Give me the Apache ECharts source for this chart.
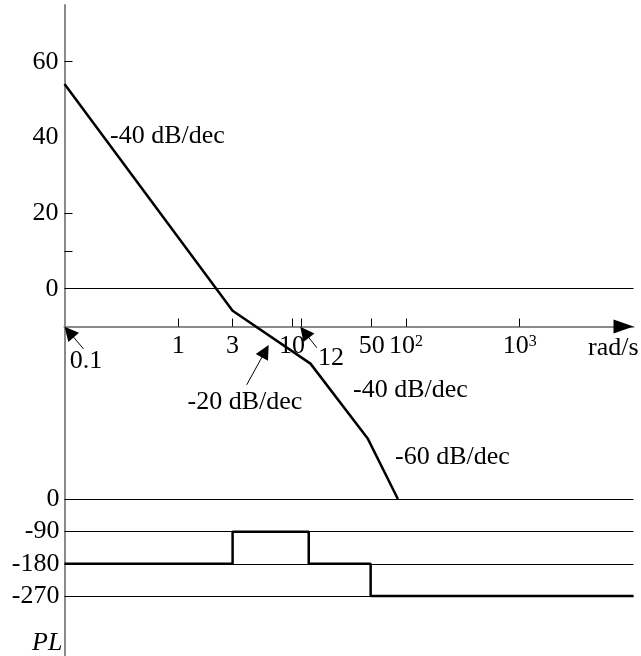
<!DOCTYPE html>
<html><head><meta charset="utf-8">
<script src="https://cdn.jsdelivr.net/npm/echarts@6/dist/echarts.min.js"></script>
<style>html,body{margin:0;padding:0;background:#fff}#c{width:641px;height:656px}</style>
</head><body><div id="c"></div>
<script>
// ---- data ----
const freqTicks = [1, 3, 10, 12, 50, 100, 1000];
const freqLabels = [1, 3, 10, 50, 100, 1000];
const magTicks = [60, 20, 10];
const magLabels = [60, 40, 20, 0];
const phaseLabels = [0, -90, -180, -270];
const magFreq = [0.1, 3, 14.5, 46, 85];
const magDb = [54.1, -5.8, -19.8, -39.5, -55.6];
const phaseFreq = [0.1, 3, 14, 49, 10000];
const phaseDeg = [-180, -90, -180, -270, -270];
// annotation arrows: tails and arrow-head centres as [freq, dB]
const arrowTails = [[0.147, -15.9], [16.5, -15.6], [3.99, -25.4]];
const arrowHeads = [[0.1098, -11.45], [12.88, -11.5], [5.81, -16.5]];

// ---- layout ----
const FONT = '"Liberation Serif","Times New Roman",serif';
const FS = 26;
const PX_PER_DB = 3.783;
const G0_TOP = 5, DB_MIN = -10, DB_MAX = 75;
const G0_H = (DB_MAX - DB_MIN) * PX_PER_DB;
const G1_TOP = G0_TOP + G0_H;
const PH0_Y = 499.5, PX_PER_DEG = 32.17 / 90;
const PH_MAX = (PH0_Y - G1_TOP) / PX_PER_DEG;
const PH_MIN = -(656 - PH0_Y) / PX_PER_DEG;
const LEFT = 64.5, RIGHT = 7.5;
const AX_GRAY = '#8a8a8a';

const supFmt = v => { const r = Math.round(v * 1000) / 1000; return r === 100 ? '10{s|2}' : r === 1000 ? '10{s|3}' : String(r); };

const chart = echarts.init(document.getElementById('c'), null, {renderer: 'canvas'});
const option = {
  animation: false,
  backgroundColor: '#fff',
  grid: [
    {left: LEFT, right: RIGHT, top: G0_TOP, height: G0_H},
    {left: LEFT, right: RIGHT, top: G1_TOP, bottom: 0}
  ],
  xAxis: [
    {gridIndex: 0, type: 'log', logBase: 10, min: 0.1, max: 10000, position: 'bottom',
     axisLine: {show: true, onZero: false, lineStyle: {color: AX_GRAY, width: 2}},
     axisTick: {show: true, inside: true, length: 8, customValues: freqTicks, lineStyle: {color: '#000', width: 1}},
     axisLabel: {show: true, customValues: freqLabels, formatter: supFmt, margin: 7,
                 fontFamily: FONT, fontSize: FS, color: '#000',
                 rich: {s: {fontFamily: FONT, fontSize: 16, color: '#000', verticalAlign: 'top', padding: [0, 0, 10, 0]}}},
     splitLine: {show: false}, minorTick: {show: false}},
    {gridIndex: 1, type: 'log', logBase: 10, min: 0.1, max: 10000, position: 'top',
     axisLine: {show: true, onZero: false, lineStyle: {color: '#000', width: 0}, symbol: ['none', 'triangle'],
                symbolSize: [14, 20], symbolOffset: [0, -10]},
     axisTick: {show: false}, axisLabel: {show: false}, splitLine: {show: false}}
  ],
  yAxis: [
    {gridIndex: 0, type: 'value', min: DB_MIN, max: DB_MAX,
     axisLine: {show: true, onZero: false, lineStyle: {color: AX_GRAY, width: 2}},
     axisTick: {show: true, inside: true, length: 8, customValues: magTicks, lineStyle: {color: '#000', width: 1}},
     axisLabel: {show: true, customValues: magLabels, margin: 6, fontFamily: FONT, fontSize: FS, color: '#000'},
     splitLine: {show: false}},
    {gridIndex: 1, type: 'value', min: PH_MIN, max: PH_MAX,
     axisLine: {show: true, onZero: false, lineStyle: {color: AX_GRAY, width: 2}},
     axisTick: {show: false},
     axisLabel: {show: true, customValues: phaseLabels, margin: 5, fontFamily: FONT, fontSize: FS, color: '#000'},
     splitLine: {show: false}}
  ],
  series: [
    {type: 'line', xAxisIndex: 0, yAxisIndex: 0, clip: false, symbol: 'none', z: 5,
     data: magFreq.map((f, i) => [f, magDb[i]]),
     lineStyle: {color: '#000', width: 2.5},
     markLine: {silent: true, symbol: 'none', label: {show: false},
                lineStyle: {color: '#000', width: 1, type: 'solid'},
                data: [{yAxis: 0}]}},
    {type: 'line', xAxisIndex: 1, yAxisIndex: 1, step: 'end', symbol: 'none', z: 5,
     data: phaseFreq.map((f, i) => [f, phaseDeg[i]]),
     lineStyle: {color: '#000', width: 2.5},
     markLine: {silent: true, symbol: 'none', label: {show: false},
                lineStyle: {color: '#000', width: 1, type: 'solid'},
                data: phaseLabels.map(v => ({yAxis: v}))}},
    {type: 'lines', coordinateSystem: 'cartesian2d', xAxisIndex: 0, yAxisIndex: 0, clip: false, z: 6,
     symbol: ['none', 'triangle'], symbolSize: [9, 14],
     lineStyle: {color: '#000', width: 1, opacity: 1},
     data: arrowTails.map((t, i) => ({coords: [t, arrowHeads[i]]}))}
  ],
  graphic: [
    ['-40 dB/dec', 110, 136, 'left', false],
    ['-20 dB/dec', 245, 402, 'center', false],
    ['-40 dB/dec', 353, 390, 'left', false],
    ['-60 dB/dec', 395, 457, 'left', false],
    ['rad/s', 588, 348, 'left', false],
    ['0.1', 86, 361, 'center', false],
    ['12', 331, 358, 'center', false],
    ['PL', 32, 643, 'left', true]
  ].map(([t, x, y, al, it]) => ({
    type: 'text', x: x, y: y, silent: true, z: 10,
    style: {text: t, fill: '#000', font: (it ? 'italic ' : '') + FS + 'px ' + FONT, align: al, verticalAlign: 'middle'}
  }))
};
chart.setOption(option);
</script></body></html>
